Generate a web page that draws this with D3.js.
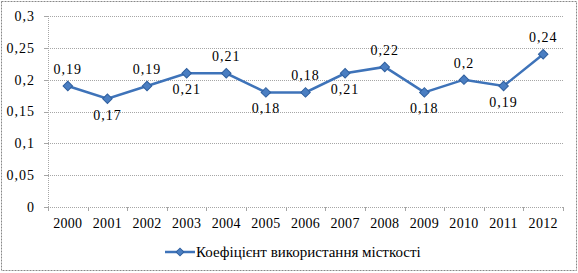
<!DOCTYPE html>
<html>
<head>
<meta charset="utf-8">
<script src="https://cdn.jsdelivr.net/npm/d3@7"></script>
<style>
  body { margin: 0; background: #fff; }
</style>
</head>
<body>
<script>
// chart values
var years = ["2000", "2001", "2002", "2003", "2004", "2005", "2006", "2007", "2008", "2009", "2010", "2011", "2012"];
var values = [0.19, 0.17, 0.19, 0.21, 0.21, 0.18, 0.18, 0.21, 0.22, 0.18, 0.2, 0.19, 0.24];
var labels = ["0,19", "0,17", "0,19", "0,21", "0,21", "0,18", "0,18", "0,21", "0,22", "0,18", "0,2", "0,19", "0,24"];
var labelAbove = [true, false, true, false, true, false, true, false, true, false, true, false, true];
var yTicks = [0, 0.05, 0.1, 0.15, 0.2, 0.25, 0.3];
var seriesName = "Коефіцієнт використання місткості";

var W = 578, H = 273;
var margin = {top: 16, right: 15, bottom: 66, left: 48};
var width = W - margin.left - margin.right,
    height = H - margin.top - margin.bottom;
var blue = "#3e73b9";
var serif = "'Times New Roman', 'Liberation Serif', serif";

var svg = d3.select("body").append("svg")
    .attr("width", W)
    .attr("height", H);

// outer dashed border
svg.append("rect")
    .attr("x", 1.5).attr("y", 1.5)
    .attr("width", W - 3).attr("height", H - 4)
    .attr("fill", "none")
    .attr("stroke", "#888")
    .attr("stroke-dasharray", "2,1");

var g = svg.append("g")
    .attr("transform", "translate(" + margin.left + "," + margin.top + ")");

var x = d3.scaleBand().domain(years).range([0, width]);
var y = d3.scaleLinear().domain([0, 0.3]).range([height, 0]);

// grid lines
g.selectAll(".grid")
    .data(yTicks.slice(1))
    .enter().append("line")
    .attr("x1", 0).attr("x2", width)
    .attr("y1", function(d) { return Math.round(y(d)) + 0.5; })
    .attr("y2", function(d) { return Math.round(y(d)) + 0.5; })
    .attr("stroke", "#a6a6a6")
    .attr("stroke-dasharray", "1,1");

// y axis
g.append("line")
    .attr("x1", 0.5).attr("x2", 0.5)
    .attr("y1", 0).attr("y2", height)
    .attr("stroke", "#a6a6a6")
    .attr("stroke-dasharray", "1,1");
g.selectAll(".ytick")
    .data(yTicks)
    .enter().append("line")
    .attr("x1", -4).attr("x2", 0)
    .attr("y1", function(d) { return Math.round(y(d)) + 0.5; })
    .attr("y2", function(d) { return Math.round(y(d)) + 0.5; })
    .attr("stroke", "#a6a6a6");
g.selectAll(".ylab")
    .data(yTicks)
    .enter().append("text")
    .attr("x", -13)
    .attr("y", function(d) { return y(d); })
    .attr("dy", "0.35em")
    .style("font-family", serif)
    .style("text-anchor", "end")
    .style("font-size", "14px")
    .style("letter-spacing", "1px")
    .text(function(d) { return String(d).replace(".", ","); });

// x axis
g.append("line")
    .attr("x1", 0).attr("x2", width)
    .attr("y1", Math.round(height) + 0.5).attr("y2", Math.round(height) + 0.5)
    .attr("stroke", "#a6a6a6")
    .attr("stroke-dasharray", "1,1");
g.selectAll(".xtick")
    .data(d3.range(years.length + 1))
    .enter().append("line")
    .attr("x1", function(i) { return Math.round(i * x.step()) + 0.5; })
    .attr("x2", function(i) { return Math.round(i * x.step()) + 0.5; })
    .attr("y1", height).attr("y2", height + 4)
    .attr("stroke", "#a6a6a6");
g.selectAll(".xlab")
    .data(years)
    .enter().append("text")
    .attr("x", function(d) { return x(d) + x.bandwidth() / 2; })
    .attr("y", height + 21)
    .style("font-family", serif)
    .style("text-anchor", "middle")
    .style("font-size", "14px")
    .style("letter-spacing", "0.3px")
    .text(function(d) { return d; });

// series line
var line = d3.line()
    .x(function(d, i) { return x(years[i]) + x.bandwidth() / 2; })
    .y(function(d) { return y(d); });

g.append("path")
    .datum(values)
    .attr("d", line)
    .attr("fill", "none")
    .attr("stroke", blue)
    .attr("stroke-width", 2.5);

g.selectAll(".pt")
    .data(values)
    .enter().append("path")
    .attr("transform", function(d, i) {
      return "translate(" + (x(years[i]) + x.bandwidth() / 2) + "," + y(d) + ") rotate(45)";
    })
    .attr("d", d3.symbol().type(d3.symbolSquare).size(45))
    .attr("fill", "#4a7ec2")
    .attr("stroke", "#2f5f9e")
    .attr("stroke-width", 1);

// data labels
g.selectAll(".dlab")
    .data(values)
    .enter().append("text")
    .attr("x", function(d, i) { return x(years[i]) + x.bandwidth() / 2; })
    .attr("y", function(d, i) { return labelAbove[i] ? y(d) - 12 : y(d) + 21; })
    .style("font-family", serif)
    .style("text-anchor", "middle")
    .style("font-size", "14px")
    .style("letter-spacing", "1px")
    .text(function(d, i) { return labels[i]; });

// legend
var leg = svg.append("g").attr("transform", "translate(165,252)");
leg.append("line")
    .attr("x1", 0).attr("x2", 30)
    .attr("y1", 0).attr("y2", 0)
    .attr("stroke", blue)
    .attr("stroke-width", 2.5);
leg.append("path")
    .attr("transform", "translate(15,0) rotate(45)")
    .attr("d", d3.symbol().type(d3.symbolSquare).size(30))
    .attr("fill", "#4a7ec2")
    .attr("stroke", "#2f5f9e");
leg.append("text")
    .attr("x", 31)
    .attr("y", 0)
    .attr("dy", "0.35em")
    .style("font-family", serif)
    .style("font-size", "15px")
    .text(seriesName);
</script>
</body>
</html>
